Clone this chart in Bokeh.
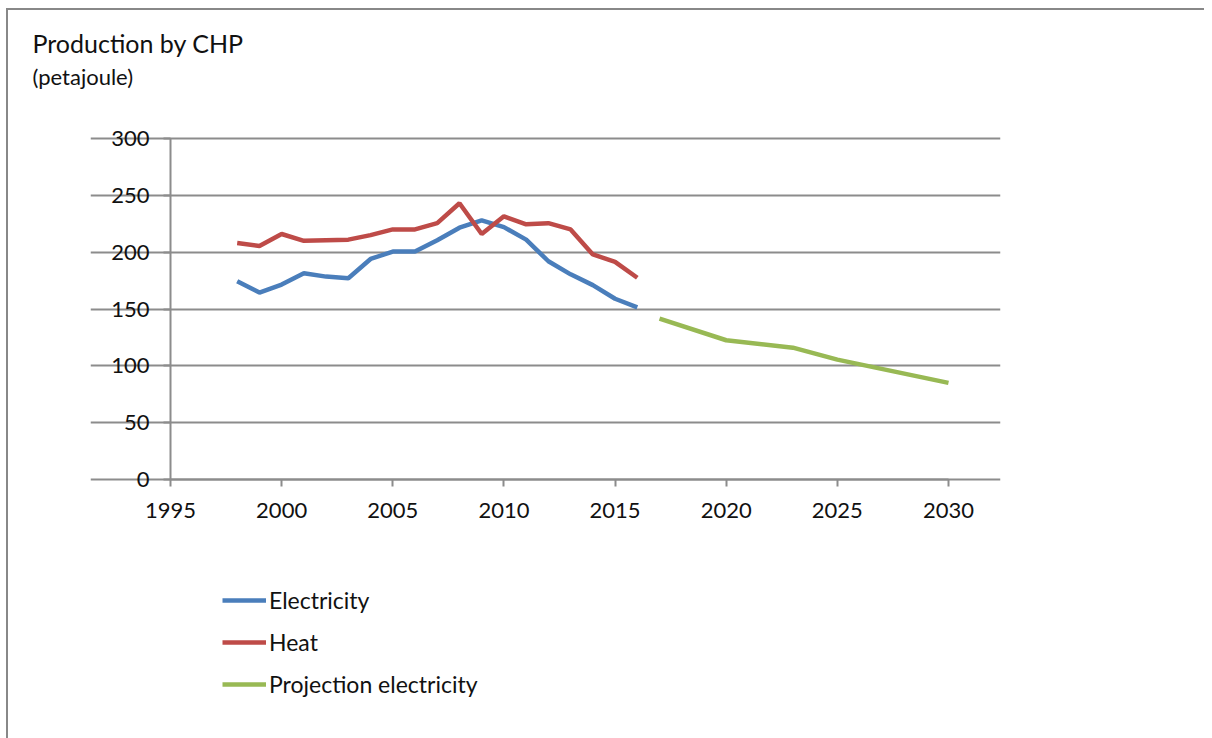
from bokeh.plotting import figure
from bokeh.models import Range1d, Legend, LegendItem, FixedTicker, Title
from bokeh.embed import file_html
from bokeh.resources import INLINE

years_hist = [1998, 1999, 2000, 2001, 2002, 2003, 2004, 2005, 2006, 2007, 2008, 2009,
              2010, 2011, 2012, 2013, 2014, 2015, 2016]
electricity = [174.5, 164.5, 171.5, 181.5, 178.5, 177, 194, 200.5, 200.5, 210.5, 221.5, 228,
               222, 211, 192, 180.5, 171, 159, 151.5]
heat = [208, 205.5, 216, 210, 210.5, 211, 215, 220, 220, 225.5, 243, 216,
        231.5, 224.5, 225.5, 220, 198, 191.5, 177.5]
years_proj = [2017, 2020, 2023, 2025, 2030]
projection = [141.5, 122.5, 116, 105.5, 85]

x_ticks = [1995, 2000, 2005, 2010, 2015, 2020, 2025, 2030]
y_ticks = [0, 50, 100, 150, 200, 250, 300]

FONT = "Lato"
GRID = "#8c8c8c"
TXT = "#111111"

# page geometry
OX, OY = 8, 10                      # canvas origin inside the grey border
PL, PR = 170, 948                   # page x of 1995 and 2030
P300, P0 = 138, 479                 # page y of value 300 and of value 0
FL, FR = 90, 1000                   # frame left / right (wider than plot area)
FT, FBOT = 91, 738                  # frame top / bottom (frame also holds the legend)
px_per_year = (PR - PL) / 35.0
px_per_unit = (P0 - P300) / 300.0
x_lo = 1995 - (PL - FL) / px_per_year
x_hi = 2030 + (FR - PR) / px_per_year
y_hi = 300 + (P300 - FT) / px_per_unit
y_lo = -(FBOT - P0) / px_per_unit

p = figure(frame_width=FR - FL, frame_height=FBOT - FT,
           output_backend="svg", toolbar_location=None,
           x_range=Range1d(x_lo, x_hi), y_range=Range1d(y_lo, y_hi),
           min_border_left=FL - OX, min_border_right=1212 - OX - FR,
           min_border_top=FT - OY, min_border_bottom=0,
           margin=(OY - 2, 0, 0, OX - 2),
           styles={"border-left": "2px solid #888888", "border-top": "2px solid #888888"})
p.outline_line_color = None

# unit line (next to the frame) and title (outermost)
p.add_layout(Title(text="(petajoule)", align="left", offset=32 - FL,
                   text_font=FONT, text_font_size="22px", text_font_style="normal",
                   text_color=TXT, standoff=4), "above")
p.title.text = "Production by CHP"
p.title.align = "left"
p.title.offset = 32 - FL
p.title.text_font = FONT
p.title.text_font_size = "25px"
p.title.text_font_style = "normal"
p.title.text_color = TXT
p.title.standoff = 2

p.xgrid.grid_line_color = None
p.ygrid.grid_line_color = GRID
p.ygrid.grid_line_width = 2
p.ygrid.ticker = FixedTicker(ticks=y_ticks)
p.ygrid.bounds = (1995, 2030)

xax = p.xaxis[0]
yax = p.yaxis[0]
for ax in (xax, yax):
    ax.axis_line_color = GRID
    ax.axis_line_width = 2
    ax.major_tick_line_color = GRID
    ax.major_tick_line_width = 2
    ax.major_tick_out = 7
    ax.major_tick_in = 0
    ax.minor_tick_line_color = None
    ax.major_label_text_font = FONT
    ax.major_label_text_font_size = "22px"
    ax.major_label_text_color = TXT
xax.ticker = FixedTicker(ticks=x_ticks)
yax.ticker = FixedTicker(ticks=y_ticks)
xax.fixed_location = 0
yax.fixed_location = 1995
xax.bounds = (1995, 2030)
yax.bounds = (0, 300)
xax.major_label_standoff = 16
yax.major_label_standoff = 14

r_e = p.line(years_hist, electricity, line_color="#4a7ebb", line_width=4.5)
r_h = p.line(years_hist, heat, line_color="#be4b48", line_width=4.5)
r_p = p.line(years_proj, projection, line_color="#98b954", line_width=4.5)

ITEM_H, SPACING = 28, 14
LEG_H = 3 * ITEM_H + 2 * SPACING
legend = Legend(items=[LegendItem(label="Electricity", renderers=[r_e]),
                       LegendItem(label="Heat", renderers=[r_h]),
                       LegendItem(label="Projection electricity", renderers=[r_p])],
                location=(222 - FL, FBOT - (586 + LEG_H)), orientation="vertical",
                glyph_width=44, glyph_height=20, label_height=20, label_standoff=3,
                spacing=SPACING, padding=0, margin=0, border_line_color=None,
                background_fill_alpha=0, label_text_font=FONT,
                label_text_font_size="23px", label_text_color=TXT)
p.add_layout(legend, "center")

open("out.html", "w").write(file_html(p, INLINE))
